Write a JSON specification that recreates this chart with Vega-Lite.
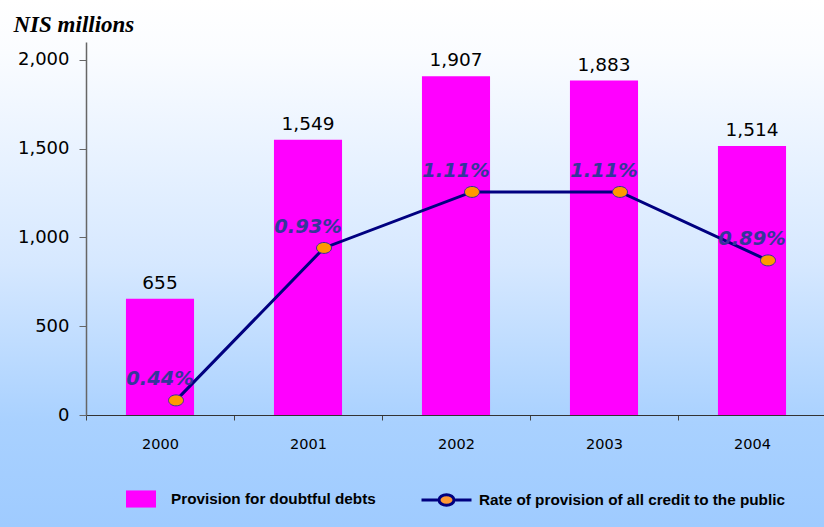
{
  "$schema": "https://vega.github.io/schema/vega-lite/v6.json",
  "width": 824,
  "height": 527,
  "autosize": {"type": "none"},
  "padding": 0,
  "background": "#ffffff",
  "config": {
    "view": {
      "stroke": null,
      "fill": {
        "gradient": "linear",
        "x1": 0, "y1": 0, "x2": 0, "y2": 1,
        "stops": [
          {"offset": 0, "color": "#ffffff"},
          {"offset": 0.1, "color": "#fafcff"},
          {"offset": 0.5, "color": "#d6e8ff"},
          {"offset": 0.8, "color": "#a9d1ff"},
          {"offset": 1, "color": "#9fcbff"}
        ]
      }
    }
  },
  "data": {
    "values": [
      {"year": "2000", "provision": 655, "rate": 0.44, "rate_label": "0.44%"},
      {"year": "2001", "provision": 1549, "rate": 0.93, "rate_label": "0.93%"},
      {"year": "2002", "provision": 1907, "rate": 1.11, "rate_label": "1.11%"},
      {"year": "2003", "provision": 1883, "rate": 1.11, "rate_label": "1.11%"},
      {"year": "2004", "provision": 1514, "rate": 0.89, "rate_label": "0.89%"}
    ]
  },
  "encoding": {
    "x": {
      "field": "year",
      "type": "ordinal",
      "scale": {"range": [86, 826], "paddingInner": 0, "paddingOuter": 0},
      "axis": {
        "title": null,
        "orient": "bottom",
        "offset": -112,
        "tickBand": "extent",
        "tickSize": 5,
        "tickColor": "#444444",
        "domainColor": "#333333",
        "domainWidth": 1.2,
        "labelAngle": 0,
        "labelPadding": 17,
        "labelFont": "DejaVu Sans",
        "labelFontSize": 14.5,
        "labelColor": "#000000",
        "grid": false
      }
    }
  },
  "layer": [
    {
      "encoding": {
        "y": {
          "field": "provision",
          "type": "quantitative",
          "scale": {"domain": [0, 2100], "range": [415, 42], "nice": false, "zero": true},
          "axis": {
            "title": "NIS millions",
            "titleAngle": 0,
            "titleX": -73,
            "titleY": 31,
            "titleAlign": "left",
            "titleBaseline": "alphabetic",
            "titleFont": "Liberation Serif",
            "titleFontSize": 23,
            "titleFontWeight": "bold",
            "titleFontStyle": "italic",
            "titleColor": "#000000",
            "orient": "left",
            "offset": -86,
            "values": [0, 500, 1000, 1500, 2000],
            "format": ",.0f",
            "tickSize": 7,
            "tickColor": "#666666",
            "domainColor": "#666666",
            "domainWidth": 1.5,
            "labelPadding": 10,
            "labelFont": "DejaVu Sans",
            "labelFontSize": 18,
            "labelColor": "#000000",
            "grid": false
          }
        }
      },
      "layer": [
        {
          "mark": {"type": "bar", "width": {"band": 0.46}},
          "encoding": {
            "color": {
              "datum": "Provision for doubtful debts",
              "type": "nominal",
              "scale": {"range": ["#ff00ff"]},
              "legend": {
                "orient": "none",
                "legendX": 126,
                "legendY": 484,
                "title": null,
                "padding": 0,
                "symbolType": "M-1,-0.57H1V0.57H-1Z",
                "symbolSize": 900,
                "symbolStrokeWidth": 0,
                "labelOffset": 15,
                "labelFont": "Liberation Sans",
                "labelFontSize": 15.3,
                "labelFontWeight": "bold",
                "labelColor": "#000000",
                "labelLimit": 400
              }
            }
          }
        },
        {
          "mark": {"type": "text", "dy": -10, "baseline": "alphabetic", "font": "DejaVu Sans", "fontSize": 18.5, "color": "#000000"},
          "encoding": {
            "text": {"field": "provision", "type": "quantitative", "format": ",.0f"}
          }
        }
      ]
    },
    {
      "encoding": {
        "y": {
          "field": "rate",
          "type": "quantitative",
          "scale": {"domain": [0.393, 1.592], "range": [415, 42], "nice": false, "zero": false},
          "axis": null
        }
      },
      "layer": [
        {
          "mark": {"type": "line", "xOffset": 16, "strokeWidth": 3},
          "encoding": {
            "stroke": {
              "datum": "Rate of provision of  all credit to the public",
              "type": "nominal",
              "scale": {"range": ["#000080"]},
              "legend": {
                "orient": "none",
                "legendX": 420,
                "legendY": 473.5,
                "title": null,
                "padding": 0,
                "symbolType": "M-1,0H-0.3A0.3,0.21 0 1,1 0.3,0H1M0.3,0A0.3,0.21 0 1,1 -0.3,0",
                "symbolSize": 2500,
                "symbolStrokeWidth": 3,
                "labelOffset": 6,
                "labelFont": "Liberation Sans",
                "labelFontSize": 15.3,
                "labelFontWeight": "bold",
                "labelColor": "#000000",
                "labelLimit": 500,
                "encode": {"symbols": {"update": {"fill": {"value": "#ff9933"}, "fillOpacity": {"value": 1}}}}
              }
            }
          }
        },
        {
          "mark": {
            "type": "point",
            "xOffset": 16,
            "shape": "M-1,0A1,0.73 0 1,1 1,0A1,0.73 0 1,1 -1,0Z",
            "size": 225,
            "filled": true,
            "fill": "#ff9900",
            "stroke": "#333399",
            "strokeWidth": 1,
            "opacity": 1
          }
        },
        {
          "mark": {"type": "text", "dy": -21, "baseline": "middle", "font": "DejaVu Sans", "fontSize": 19.5, "fontWeight": "bold", "fontStyle": "italic", "color": "#36369a"},
          "encoding": {
            "text": {"field": "rate_label", "type": "nominal"}
          }
        }
      ]
    }
  ],
  "resolve": {"scale": {"y": "independent"}}
}
